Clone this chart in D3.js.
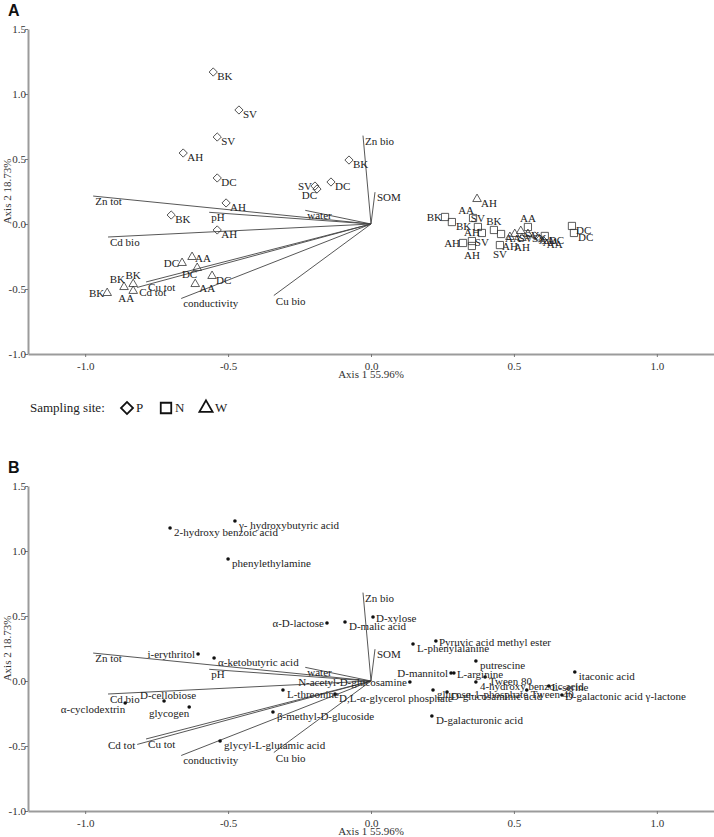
<!DOCTYPE html>
<html><head><meta charset="utf-8">
<script src="https://cdn.jsdelivr.net/npm/d3@7"></script>
<style>body{margin:0;background:#fff}svg{display:block}</style>
</head><body>
<svg id="c" width="714" height="837"></svg>
<script>
// ---------------- data ----------------
const xTicks = [-1.0, -0.5, 0.0, 0.5, 1.0];
const yTicks = [-1.0, -0.5, 0.0, 0.5, 1.0, 1.5];
const xTitle = "Axis 1 55.96%";
const yTitle = "Axis 2 18.73%";

// environmental vectors (same in both panels)
const envNames = ["Zn bio", "SOM", "water", "pH", "Zn tot", "Cd bio", "Cu tot", "Cd tot", "conductivity", "Cu bio"];
const envX = [-0.028, 0.014, -0.230, -0.566, -0.972, -0.920, -0.787, -0.818, -0.664, -0.340];
const envY = [0.680, 0.245, 0.105, 0.090, 0.215, -0.100, -0.446, -0.488, -0.573, -0.550];

// sampling site P (diamonds)
const pLabels = ["BK", "SV", "SV", "AH", "DC", "BK", "DC", "SV", "DC", "AH", "BK", "AH", "AA", "AA", "AA"];
const pX = [-0.552, -0.462, -0.538, -0.657, -0.538, -0.077, -0.140, -0.196, -0.189, -0.507, -0.699, -0.538, 0.573, 0.587, 0.601];
const pY = [1.169, 0.877, 0.669, 0.546, 0.354, 0.492, 0.323, 0.292, 0.269, 0.162, 0.069, -0.046, -0.092, -0.108, -0.123];

// sampling site N (squares)
const nLabels = ["BK", "BK", "AA", "SV", "SV", "AH", "AH", "AH", "BK", "AA", "SV", "AA", "DC", "DC", "DC"];
const nX = [0.259, 0.283, 0.357, 0.374, 0.388, 0.322, 0.353, 0.353, 0.430, 0.455, 0.451, 0.549, 0.608, 0.703, 0.710];
const nY = [0.054, 0.015, 0.046, -0.023, -0.069, -0.146, -0.131, -0.169, -0.046, -0.077, -0.162, -0.023, -0.092, -0.015, -0.069];

// sampling site W (triangles)
const wLabels = ["BK", "BK", "BK", "AA", "DC", "AA", "DC", "DC", "AA", "AH", "AH", "AH", "SV", "SV", "SV"];
const wX = [-0.923, -0.864, -0.832, -0.832, -0.661, -0.626, -0.608, -0.556, -0.615, 0.371, 0.486, 0.528, 0.503, 0.524, 0.549];
const wY = [-0.531, -0.485, -0.462, -0.515, -0.300, -0.254, -0.338, -0.400, -0.462, 0.192, -0.100, -0.108, -0.077, -0.054, -0.077];

// substrates (panel B)
const subNames = ["2-hydroxy benzoic acid", "γ- hydroxybutyric acid", "phenylethylamine", "α-D-lactose", "D-malic acid",
  "D-xylose", "L-phenylalanine", "Pyruvic acid methyl ester", "putrescine", "D-mannitol", "L-arginine", "itaconic acid",
  "Tween 80", "4-hydroxy benzoic acid", "L-serine", "N-acetyl-D-glucosamine", "D,L-α-glycerol phosphate",
  "glucose-1-phosphate", "D-glucosaminic acid", "Tween 40", "D-galactonic acid γ-lactone", "D-galacturonic acid",
  "i-erythritol", "α-ketobutyric acid", "L-threonine", "D-cellobiose", "glycogen", "α-cyclodextrin",
  "β-methyl-D-glucoside", "glycyl-L-glutamic acid"];
const subX = [-0.703, -0.476, -0.500, -0.154, -0.091, 0.007, 0.147, 0.227, 0.367, 0.280, 0.290, 0.713,
  0.399, 0.367, 0.622, 0.136, -0.126, 0.217, 0.266, 0.545, 0.668, 0.213,
  -0.605, -0.549, -0.308, -0.724, -0.636, -0.860, -0.343, -0.528];
const subY = [1.177, 1.231, 0.938, 0.446, 0.454, 0.492, 0.285, 0.308, 0.154, 0.062, 0.062, 0.069,
  0.031, -0.008, -0.038, -0.008, -0.100, -0.069, -0.085, -0.069, -0.108, -0.269,
  0.208, 0.177, -0.069, -0.154, -0.200, -0.169, -0.238, -0.462];

const legendTitle = "Sampling site:";
const legendKeys = ["P", "N", "W"];
const panelNames = ["A", "B"];

// ---------------- label placement (layout only) ----------------
const pSide = ["r","r","r","r","r","r","r","l","lb","r","r","r","r","r","r"];
const nSide = ["l","r","al","a","b","l","a","b","a","r","b","a","r","r","r"];
const wSide = ["l","al","a","bl","l","rm","lb","r","r","r","b","b","r","r","r"];
const subSide = ["r","r","r","l","r","rm","r","rm","r","l","rm","r","r","r","rm","l","r",
  "r","r","r","rm","r","l","r","r","am","lb","lb","r","r"];
const envSideA = ["r","r","r","r","r","r","r","r","r","r"];
const envSideB = ["r","r","r","r","r","r","r","le","r","r"];

const PLACE = {
  r:  {dx: 4, dy: 8, a: "start"},
  rm: {dx: 3, dy: 5, a: "start"},
  l:  {dx: -3, dy: 4, a: "end"},
  lb: {dx: 0, dy: 10, a: "end"},
  al: {dx: 1, dy: -4, a: "end"},
  a:  {dx: 0, dy: -5, a: "middle"},
  am: {dx: 4, dy: -2, a: "middle"},
  b:  {dx: 0, dy: 13, a: "middle"},
  bl: {dx: 1, dy: 11, a: "end"},
  le: {dx: -2, dy: 5, a: "end"},
  v:  {dx: 2, dy: 9, a: "start"}
};

// ---------------- drawing ----------------
const svg = d3.select("#c");
const SERIF = "'Liberation Serif', 'Times New Roman', serif";
const AXIS_COL = "#9b9b9b";
const x = d3.scaleLinear().domain([-1.2, 1.2]).range([28, 714]);
const fmt = d => d.toFixed(1);

function zip(names, xs, ys, sides) { return names.map((n, i) => ({n, x: xs[i], y: ys[i], s: sides[i]})); }

function drawPanel(top, panelIdx) {
  const y = d3.scaleLinear().domain([-1, 1.5]).range([top + 325, top]);
  const g = svg.append("g");

  g.append("text").attr("x", 8).attr("y", top - 13)
    .attr("font-family", "'Liberation Sans', Arial, sans-serif").attr("font-weight", "bold")
    .attr("font-size", 16).attr("fill", "#111").text(panelNames[panelIdx]);

  const ax = g.append("g").attr("transform", `translate(0,${y(-1)})`)
    .call(d3.axisBottom(x).tickValues(xTicks).tickFormat(fmt).tickSize(3).tickSizeOuter(0));
  const ay = g.append("g").attr("transform", `translate(${x(-1.2)},0)`)
    .call(d3.axisLeft(y).tickValues(yTicks).tickFormat(fmt).tickSize(3).tickSizeOuter(0));
  [ax, ay].forEach(a => {
    a.select(".domain").attr("stroke", AXIS_COL).attr("stroke-width", 2);
    a.selectAll(".tick line").attr("stroke", "#777");
    a.selectAll(".tick text").attr("font-family", SERIF).attr("font-size", 11).attr("fill", "#333");
  });
  ax.selectAll(".tick text").attr("dy", "0.95em");
  ay.selectAll(".tick text").attr("x", -2);

  g.append("text").attr("x", x(0)).attr("y", y(-1) + 24).attr("text-anchor", "middle")
    .attr("font-family", SERIF).attr("font-size", 11).attr("fill", "#333").text(xTitle);
  g.append("text").attr("transform", `translate(11,${(y(1.5) + y(-1)) / 2}) rotate(-90)`)
    .attr("text-anchor", "middle").attr("font-family", SERIF).attr("font-size", 11).attr("fill", "#333").text(yTitle);

  // vectors
  const env = zip(envNames, envX, envY, panelIdx === 0 ? envSideA : envSideB);
  g.append("g").selectAll("line").data(env).join("line")
    .attr("x1", x(0)).attr("y1", y(0)).attr("x2", d => x(d.x)).attr("y2", d => y(d.y))
    .attr("stroke", "#444").attr("stroke-width", 0.9);
  g.append("g").selectAll("text").data(env).join("text")
    .each(function (d) {
      const p = d.s === "r" ? PLACE.v : PLACE[d.s];
      d3.select(this).attr("x", x(d.x) + p.dx).attr("y", y(d.y) + p.dy).attr("text-anchor", p.a);
    })
    .attr("font-family", SERIF).attr("font-size", 11).attr("fill", "#222").text(d => d.n);
  return y;
}

function labels(g, data, xs, ys) {
  g.selectAll("text.lab").data(data).join("text").attr("class", "lab")
    .each(function (d) {
      const p = PLACE[d.s];
      d3.select(this).attr("x", xs(d.x) + p.dx).attr("y", ys(d.y) + p.dy).attr("text-anchor", p.a);
    })
    .attr("font-family", SERIF).attr("font-size", 11).attr("fill", "#222").text(d => d.n);
}

const diamond = d3.symbol().type(d3.symbolSquare).size(34);
const square = d3.symbol().type(d3.symbolSquare).size(52);
const triangle = d3.symbol().type(d3.symbolTriangle).size(32);

// Panel A
const yA = drawPanel(29, 0);
const gA = svg.append("g");
const groups = [
  {data: zip(pLabels, pX, pY, pSide), path: diamond, rot: 45},
  {data: zip(nLabels, nX, nY, nSide), path: square, rot: 0},
  {data: zip(wLabels, wX, wY, wSide), path: triangle, rot: 0}
];
groups.forEach(gr => {
  gA.append("g").selectAll("path").data(gr.data).join("path")
    .attr("d", gr.path())
    .attr("transform", d => `translate(${x(d.x)},${yA(d.y)}) rotate(${gr.rot})`)
    .attr("fill", "none").attr("stroke", "#333").attr("stroke-width", 0.8);
});
groups.forEach(gr => labels(gA.append("g"), gr.data, x, yA));

// legend
const lg = svg.append("g").attr("transform", "translate(0,412)");
lg.append("text").attr("x", 30).attr("y", 0).attr("font-family", SERIF).attr("font-size", 13)
  .attr("fill", "#222").text(legendTitle);
const legSyms = [
  d3.symbol().type(d3.symbolSquare).size(72),
  d3.symbol().type(d3.symbolSquare).size(110),
  d3.symbol().type(d3.symbolTriangle).size(75)
];
const legRot = [45, 0, 0];
const legX = [127, 166, 206];
legendKeys.forEach((k, i) => {
  lg.append("path").attr("d", legSyms[i]()).attr("transform", `translate(${legX[i]},-4) rotate(${legRot[i]})`)
    .attr("fill", "none").attr("stroke", "#111").attr("stroke-width", 1.8);
  lg.append("text").attr("x", legX[i] + 9).attr("y", 0).attr("font-family", SERIF).attr("font-size", 13)
    .attr("fill", "#222").text(k);
});

// Panel B
const yB = drawPanel(486, 1);
const gB = svg.append("g");
const subs = zip(subNames, subX, subY, subSide);
gB.append("g").selectAll("circle").data(subs).join("circle")
  .attr("cx", d => x(d.x)).attr("cy", d => yB(d.y)).attr("r", 1.8).attr("fill", "#111");
labels(gB.append("g"), subs, x, yB);
</script>
</body></html>
